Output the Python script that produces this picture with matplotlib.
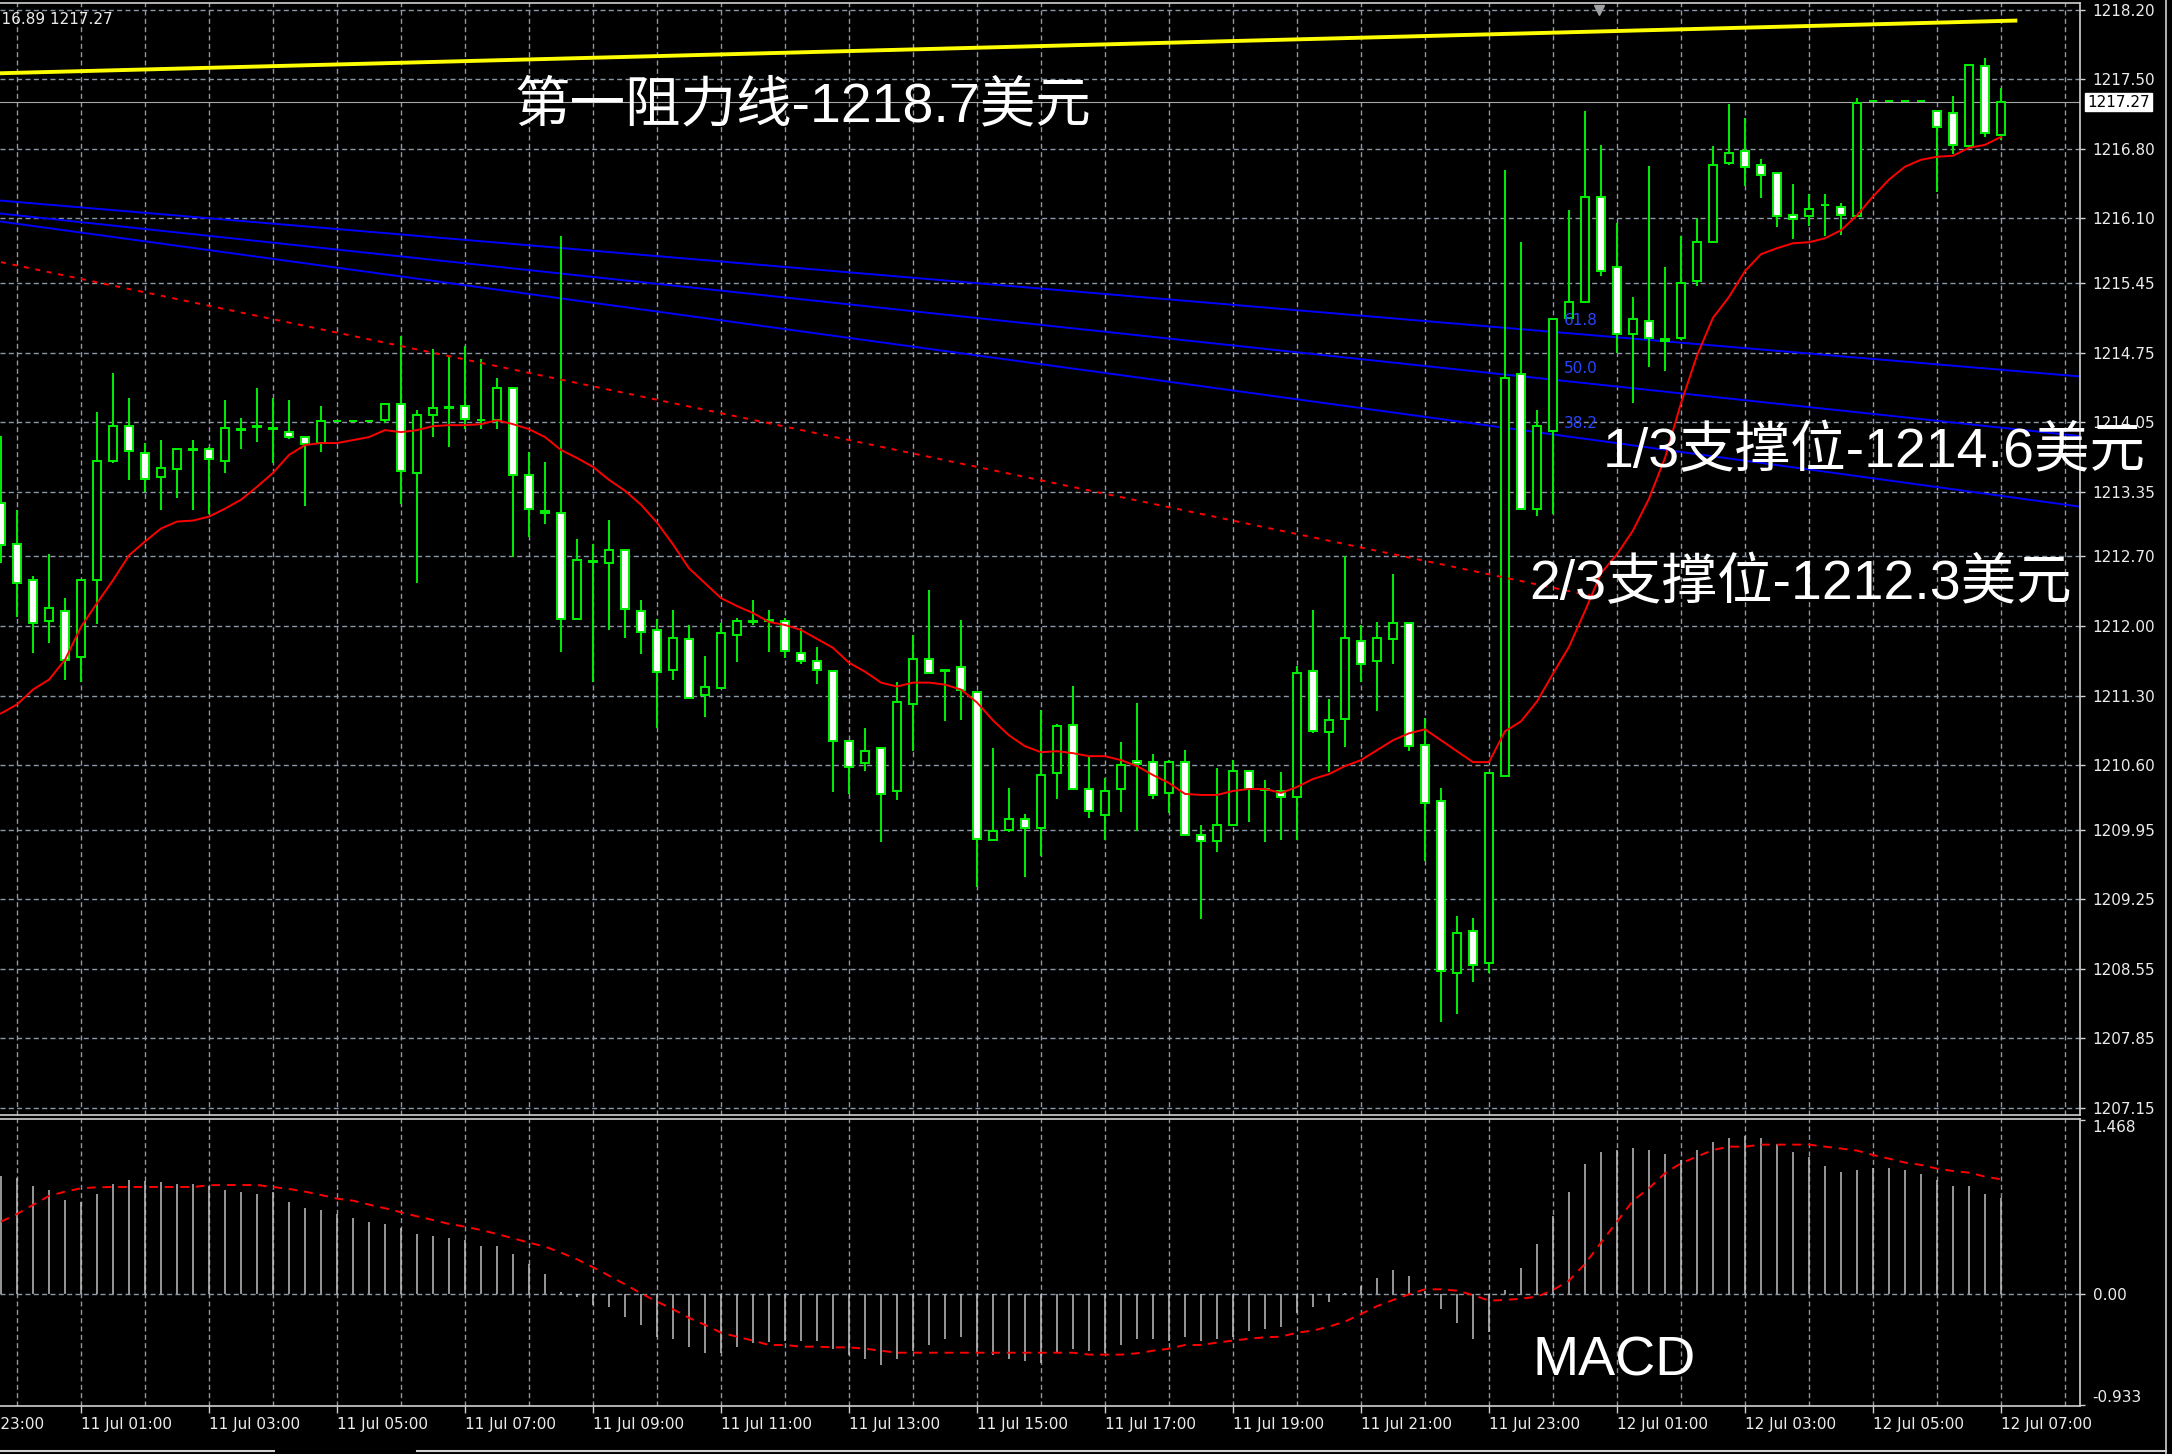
import matplotlib.pyplot as plt
from matplotlib.patches import Rectangle
from matplotlib.lines import Line2D
from matplotlib.ticker import FormatStrFormatter

# XAUUSD M15 bars, 10 Jul 23:45 -> 12 Jul 07:00
opens = [1213.24, 1212.82, 1212.46, 1212.05, 1212.15, 1211.69, 1212.46, 1213.66, 1214.01, 1213.74,
         1213.50, 1213.58, 1213.77, 1213.78, 1213.66, 1213.98, 1214.01, 1213.99, 1213.95, 1213.90,
         1213.84, 1214.06, 1214.06, 1214.06, 1214.07, 1214.23, 1213.54, 1214.12, 1214.20, 1214.21,
         1214.07, 1214.07, 1214.39, 1213.52, 1213.16, 1213.14, 1212.07, 1212.65, 1212.63, 1212.76,
         1212.15, 1211.96, 1211.56, 1211.87, 1211.31, 1211.38, 1211.91, 1212.05, 1212.06, 1212.05,
         1211.73, 1211.65, 1211.55, 1210.84, 1210.62, 1210.77, 1210.34, 1211.21, 1211.67, 1211.56,
         1211.59, 1211.34, 1209.85, 1209.95, 1210.06, 1209.97, 1210.52, 1211.00, 1210.36, 1210.10,
         1210.36, 1210.64, 1210.63, 1210.32, 1210.63, 1209.90, 1209.84, 1210.00, 1210.54, 1210.36,
         1210.34, 1210.28, 1211.55, 1210.93, 1211.06, 1211.85, 1211.65, 1211.87, 1212.03, 1210.80,
         1210.24, 1208.51, 1208.93, 1208.61, 1210.49, 1214.53, 1213.18, 1213.96, 1215.10, 1215.26,
         1216.32, 1215.61, 1214.94, 1215.07, 1214.89, 1214.90, 1215.47, 1215.86, 1216.66, 1216.78,
         1216.64, 1216.56, 1216.13, 1216.12, 1216.23, 1216.21, 1216.12, 1217.28, 1217.28, 1217.28,
         1217.28, 1217.18, 1217.16, 1216.83, 1217.63, 1216.94]
highs = [1213.91, 1213.17, 1212.50, 1212.72, 1212.28, 1212.46, 1214.15, 1214.54, 1214.29, 1213.84,
         1213.87, 1213.78, 1213.87, 1213.80, 1214.27, 1214.09, 1214.39, 1214.29, 1214.27, 1213.90,
         1214.21, 1214.06, 1214.06, 1214.06, 1214.23, 1214.92, 1214.17, 1214.79, 1214.72, 1214.82,
         1214.69, 1214.49, 1214.39, 1213.75, 1213.65, 1215.92, 1212.87, 1212.82, 1213.07, 1212.76,
         1212.26, 1212.07, 1212.16, 1212.01, 1211.70, 1212.03, 1212.08, 1212.26, 1212.16, 1212.08,
         1211.98, 1211.79, 1211.55, 1210.84, 1210.97, 1210.77, 1211.44, 1211.91, 1212.36, 1211.56,
         1212.06, 1211.34, 1210.77, 1210.37, 1210.11, 1211.15, 1211.01, 1211.40, 1210.68, 1210.47,
         1210.83, 1211.22, 1210.71, 1210.65, 1210.75, 1210.00, 1210.57, 1210.65, 1210.54, 1210.45,
         1210.53, 1211.60, 1212.16, 1211.27, 1212.70, 1212.01, 1212.04, 1212.52, 1212.03, 1211.07,
         1210.37, 1209.08, 1209.06, 1210.52, 1216.59, 1215.86, 1214.17, 1215.09, 1216.18, 1217.18,
         1216.84, 1216.05, 1215.31, 1216.63, 1215.61, 1215.92, 1216.10, 1216.83, 1217.25, 1217.11,
         1216.70, 1216.56, 1216.45, 1216.35, 1216.35, 1216.25, 1217.31, 1217.28, 1217.28, 1217.28,
         1217.28, 1217.18, 1217.33, 1217.64, 1217.71, 1217.41]
lows = [1212.63, 1212.09, 1211.73, 1211.83, 1211.46, 1211.44, 1212.02, 1213.64, 1213.47, 1213.35,
        1213.17, 1213.29, 1213.17, 1213.13, 1213.54, 1213.78, 1213.85, 1213.64, 1213.88, 1213.21,
        1213.75, 1214.06, 1214.06, 1214.06, 1214.04, 1213.23, 1212.43, 1213.90, 1213.80, 1213.98,
        1213.98, 1213.98, 1212.69, 1212.89, 1213.03, 1211.74, 1212.07, 1211.44, 1211.96, 1211.88,
        1211.72, 1210.97, 1211.46, 1211.28, 1211.08, 1211.38, 1211.64, 1212.01, 1211.74, 1211.68,
        1211.62, 1211.42, 1210.33, 1210.31, 1210.54, 1209.83, 1210.25, 1210.74, 1211.53, 1211.04,
        1211.05, 1209.37, 1209.85, 1209.93, 1209.47, 1209.69, 1210.26, 1210.36, 1210.07, 1209.85,
        1210.13, 1209.94, 1210.26, 1210.12, 1209.90, 1209.05, 1209.73, 1210.00, 1210.03, 1209.83,
        1209.85, 1209.85, 1210.92, 1210.53, 1210.78, 1211.44, 1211.14, 1211.62, 1210.74, 1209.64,
        1208.02, 1208.10, 1208.42, 1208.51, 1210.49, 1213.17, 1213.11, 1213.13, 1215.10, 1215.26,
        1215.52, 1214.75, 1214.24, 1214.61, 1214.56, 1214.88, 1215.42, 1215.86, 1216.64, 1216.43,
        1216.31, 1216.01, 1215.89, 1216.02, 1215.92, 1215.93, 1216.12, 1217.28, 1217.28, 1217.28,
        1217.28, 1216.37, 1216.75, 1216.81, 1216.92, 1216.89]
closes = [1212.81, 1212.43, 1212.03, 1212.18, 1211.66, 1212.46, 1213.66, 1214.01, 1213.76, 1213.48,
          1213.59, 1213.78, 1213.78, 1213.68, 1213.99, 1213.97, 1214.00, 1213.98, 1213.90, 1213.83,
          1214.06, 1214.06, 1214.06, 1214.06, 1214.23, 1213.56, 1214.12, 1214.19, 1214.19, 1214.08,
          1214.07, 1214.39, 1213.52, 1213.18, 1213.14, 1212.07, 1212.66, 1212.64, 1212.76, 1212.17,
          1211.94, 1211.54, 1211.88, 1211.28, 1211.39, 1211.93, 1212.05, 1212.04, 1212.05, 1211.75,
          1211.65, 1211.56, 1210.84, 1210.58, 1210.74, 1210.31, 1211.23, 1211.67, 1211.53, 1211.55,
          1211.36, 1209.86, 1209.94, 1210.06, 1209.97, 1210.50, 1210.99, 1210.36, 1210.14, 1210.34,
          1210.60, 1210.61, 1210.30, 1210.63, 1209.90, 1209.84, 1210.00, 1210.54, 1210.36, 1210.35,
          1210.28, 1211.53, 1210.94, 1211.05, 1211.88, 1211.62, 1211.88, 1212.03, 1210.79, 1210.22,
          1208.53, 1208.91, 1208.59, 1210.52, 1214.49, 1213.18, 1214.01, 1215.09, 1215.26, 1216.32,
          1215.57, 1214.94, 1215.09, 1214.90, 1214.87, 1215.45, 1215.86, 1216.64, 1216.76, 1216.62,
          1216.54, 1216.12, 1216.09, 1216.19, 1216.23, 1216.13, 1217.26, 1217.28, 1217.28, 1217.28,
          1217.28, 1217.02, 1216.84, 1217.64, 1216.96, 1217.27]
ma_line = [1211.12, 1211.21, 1211.36, 1211.46, 1211.66, 1211.99, 1212.23, 1212.46, 1212.71, 1212.85,
           1212.98, 1213.05, 1213.06, 1213.10, 1213.18, 1213.27, 1213.40, 1213.54, 1213.72, 1213.82,
           1213.84, 1213.84, 1213.87, 1213.90, 1213.97, 1213.95, 1213.97, 1214.01, 1214.02, 1214.02,
           1214.03, 1214.07, 1214.03, 1213.98, 1213.90, 1213.77, 1213.69, 1213.60, 1213.47, 1213.36,
           1213.22, 1213.04, 1212.82, 1212.58, 1212.43, 1212.28, 1212.20, 1212.13, 1212.04, 1212.01,
           1211.96, 1211.87, 1211.78, 1211.63, 1211.54, 1211.43, 1211.39, 1211.43, 1211.43, 1211.41,
           1211.36, 1211.23, 1211.05, 1210.90, 1210.79, 1210.73, 1210.74, 1210.72, 1210.69, 1210.69,
           1210.65, 1210.59, 1210.50, 1210.42, 1210.31, 1210.30, 1210.30, 1210.34, 1210.36, 1210.36,
           1210.32, 1210.38, 1210.46, 1210.51, 1210.59, 1210.65, 1210.75, 1210.85, 1210.92, 1210.96,
           1210.85, 1210.74, 1210.63, 1210.63, 1210.94, 1211.04, 1211.24, 1211.52, 1211.79, 1212.15,
           1212.53, 1212.72, 1212.96, 1213.28, 1213.69, 1214.24, 1214.72, 1215.10, 1215.31, 1215.57,
           1215.74, 1215.80, 1215.85, 1215.86, 1215.90, 1215.98, 1216.13, 1216.32, 1216.49, 1216.62,
           1216.69, 1216.72, 1216.73, 1216.81, 1216.84, 1216.92]
macd_hist = [0.997, 0.978, 0.913, 0.879, 0.795, 0.778, 0.846, 0.930, 0.963, 0.958,
             0.947, 0.930, 0.930, 0.913, 0.879, 0.862, 0.846, 0.862, 0.778, 0.728,
             0.711, 0.677, 0.643, 0.610, 0.593, 0.559, 0.508, 0.492, 0.475, 0.458,
             0.407, 0.407, 0.340, 0.256, 0.171, 0.022, -0.020, -0.090, -0.110, -0.194,
             -0.261, -0.357, -0.379, -0.447, -0.497, -0.497, -0.447, -0.413, -0.402, -0.396,
             -0.396, -0.396, -0.463, -0.514, -0.548, -0.598, -0.548, -0.480, -0.430, -0.379,
             -0.362, -0.497, -0.514, -0.548, -0.565, -0.581, -0.497, -0.463, -0.480, -0.497,
             -0.430, -0.379, -0.379, -0.396, -0.362, -0.396, -0.379, -0.362, -0.312, -0.295,
             -0.278, -0.160, -0.110, -0.062, 0.014, 0.070, 0.135, 0.205, 0.154, 0.030,
             -0.126, -0.244, -0.379, -0.315, 0.037, 0.222, 0.424, 0.660, 0.862, 1.098,
             1.199, 1.216, 1.233, 1.216, 1.183, 1.132, 1.216, 1.284, 1.317, 1.334,
             1.317, 1.267, 1.199, 1.160, 1.081, 1.031, 1.048, 1.065, 1.065, 1.048,
             1.014, 0.963, 0.913, 0.913, 0.846, 0.812]
macd_signal = [0.612, 0.677, 0.753, 0.829, 0.865, 0.893, 0.902, 0.904, 0.904, 0.904,
               0.904, 0.904, 0.904, 0.919, 0.921, 0.921, 0.921, 0.904, 0.888, 0.865,
               0.837, 0.806, 0.789, 0.756, 0.725, 0.691, 0.657, 0.626, 0.593, 0.570,
               0.542, 0.508, 0.472, 0.435, 0.402, 0.351, 0.295, 0.228, 0.157, 0.084,
               0.008, -0.062, -0.126, -0.198, -0.258, -0.323, -0.357, -0.390, -0.427, -0.427,
               -0.441, -0.441, -0.447, -0.447, -0.458, -0.475, -0.492, -0.492, -0.492, -0.492,
               -0.492, -0.492, -0.492, -0.492, -0.492, -0.492, -0.492, -0.492, -0.508, -0.508,
               -0.508, -0.497, -0.475, -0.458, -0.427, -0.427, -0.407, -0.390, -0.374, -0.362,
               -0.357, -0.323, -0.306, -0.272, -0.230, -0.166, -0.100, -0.048, 0.000, 0.042,
               0.042, 0.031, -0.006, -0.053, -0.048, -0.037, -0.020, 0.037, 0.115, 0.256,
               0.435, 0.612, 0.789, 0.893, 1.020, 1.104, 1.160, 1.216, 1.244, 1.244,
               1.261, 1.261, 1.261, 1.261, 1.244, 1.228, 1.211, 1.174, 1.143, 1.110,
               1.090, 1.059, 1.039, 1.025, 0.992, 0.969]

# trend objects: (bar index, price) at both ends
resist_x = [-0.1, 125.9]
resist_y = [1217.56, 1218.09]
channel_x = [0, 99.5]
channel_y = [1215.66, 1212.30]
fan_x = [-0.1, 129.94]
fan_levels = ['61.8', '50.0', '38.2']
fan_left = [1216.28, 1216.15, 1216.07]
fan_right = [1214.51, 1213.91, 1213.20]

price_ticks = [1218.20, 1217.50, 1216.80, 1216.10, 1215.45, 1214.75, 1214.05, 1213.35, 1212.70,
               1212.00, 1211.30, 1210.60, 1209.95, 1209.25, 1208.55, 1207.85, 1207.15]
macd_ticks = [1.468, 0.0, -0.933]
macd_tick_labels = ['1.468', '0.00', '-0.933']
time_labels = ['10 Jul 23:00', '11 Jul 01:00', '11 Jul 03:00', '11 Jul 05:00', '11 Jul 07:00',
               '11 Jul 09:00', '11 Jul 11:00', '11 Jul 13:00', '11 Jul 15:00', '11 Jul 17:00',
               '11 Jul 19:00', '11 Jul 21:00', '11 Jul 23:00', '12 Jul 01:00', '12 Jul 03:00',
               '12 Jul 05:00', '12 Jul 07:00']
time_pos = list(range(-3, 126, 8))

GREEN = '#00f000'
GRID = '#8a98a8'
FRAME = '#d0d0d0'
TXT = '#ececec'
DASH = (0, (3.6, 2.4))
label_font = ['Liberation Sans', 'Noto Sans CJK SC']

W, H = 2172, 1454
fig = plt.figure(figsize=(W / 100, H / 100), dpi=100, facecolor='black')
ax = fig.add_axes([0, 1 - 1115 / H, 2080 / W, 1112 / H])
macd_ax = fig.add_axes([0, 1 - 1406 / H, 2080 / W, 287 / H], sharex=ax)

x = list(range(len(opens)))

# candles: white body = bear, black body = bull
ax.vlines(x, lows, highs, color=GREEN, lw=1.4, zorder=3)
for i in x:
    o, c = opens[i], closes[i]
    ax.add_patch(Rectangle((i - 0.23, min(o, c)), 0.46, abs(c - o),
                           facecolor='white' if c < o else 'black',
                           edgecolor=GREEN, lw=1.4, zorder=4))

ax.plot(x, ma_line, color='#ff0000', lw=1.4, zorder=5)
ax.plot(channel_x, channel_y, color='#ff0000', lw=1.4, ls=(0, (2.6, 3.4)), zorder=5)
ax.plot(resist_x, resist_y, color='#ffff00', lw=2.8, zorder=5)
ax.axhline(closes[-1], color='#a8a8a8', lw=0.8, zorder=2)

for lvl, y0, y1 in zip(fan_levels, fan_left, fan_right):
    ax.plot(fan_x, [y0, y1], color='#0000ff', lw=1.4, zorder=2)
    xl = 97.7
    yl = y0 + (y1 - y0) * (xl - fan_x[0]) / (fan_x[1] - fan_x[0])
    ax.annotate(lvl, (xl, yl), xytext=(0, 5), textcoords='offset pixels',
                color='#2a45ff', fontsize=11, ha='left', va='bottom', zorder=6)

# current bid tag on the price scale
ax.text(1.0035, closes[-1], f'{closes[-1]:.2f}', transform=ax.get_yaxis_transform(),
        ha='left', va='center', fontsize=11, color='black', zorder=10,
        bbox=dict(boxstyle='square,pad=0.12', fc='white', ec='white'))
ax.plot([99.9], [0.994], marker='v', color='#a0a0a0', markersize=7,
        transform=ax.get_xaxis_transform(), clip_on=False, zorder=6)

ax.text(32.1, 1217.22, '第一阻力线-1218.7美元', color='white', fontsize=40,
        family=label_font, ha='left', va='center', zorder=10)
ax.text(100.1, 1213.74, '1/3支撑位-1214.6美元', color='white', fontsize=40,
        family=label_font, ha='left', va='center', zorder=10)
ax.text(95.5, 1212.41, '2/3支撑位-1212.3美元', color='white', fontsize=40,
        family=label_font, ha='left', va='center', zorder=10)

# MACD panel
macd_ax.vlines(x, 0, macd_hist, color='#c0c0c0', lw=1.1, zorder=3)
macd_ax.plot(x, macd_signal, color='#ff0000', lw=1.4, ls=(0, (4.5, 3.5)), zorder=4)
macd_ax.axhline(0, color=GRID, lw=1.0, ls=DASH, zorder=1)
macd_ax.text(95.75, -0.57, 'MACD', color='white', fontsize=40,
             family=label_font, ha='left', va='center', zorder=10)

macd_ax.set_xticks(time_pos)
macd_ax.set_xticklabels(time_labels, ha='left')
macd_ax.set_xticks(range(1, 130, 4), minor=True)
for a in (ax, macd_ax):
    a.set_facecolor('black')
    a.grid(True, axis='x', which='both', color=GRID, lw=1.0, ls=DASH, zorder=1)
    a.set_axisbelow(True)
    for s in a.spines.values():
        s.set_color(FRAME)
        s.set_linewidth(1.2)
    a.spines['left'].set_visible(False)
    a.yaxis.tick_right()
    a.tick_params(axis='y', colors=FRAME, labelcolor=TXT, length=3.6, width=1,
                  pad=5.5, labelsize=11)

ax.set_yticks(price_ticks)
ax.yaxis.set_major_formatter(FormatStrFormatter('%.2f'))
ax.grid(True, axis='y', color=GRID, lw=1.0, ls=DASH, zorder=1)
ax.tick_params(axis='x', which='both', bottom=False, labelbottom=False)

macd_ax.set_yticks(macd_ticks)
macd_ax.set_yticklabels(macd_tick_labels)
ylabs = macd_ax.get_yticklabels()
ylabs[0].set_va('top')
ylabs[-1].set_va('bottom')
macd_ax.tick_params(axis='x', which='major', colors=FRAME, labelcolor=TXT,
                    length=4.8, width=1, pad=3, labelsize=11)
macd_ax.tick_params(axis='x', which='minor', length=0)

# first time label sits left of the view, only its tail shows
macd_ax.annotate(time_labels[0], (time_pos[0], 0), xycoords=('data', 'axes fraction'),
                 xytext=(0, -7.8), textcoords='offset points', ha='left', va='top',
                 color=TXT, fontsize=11, annotation_clip=False)

# limits last, so the tick lists cannot widen the view
ax.set_xlim(-0.0625, 129.94)
ax.set_ylim(1207.08, 1218.267)
macd_ax.set_ylim(-0.941, 1.477)

# last bar readout, clipped at the left edge
fig.text(113 / W, 1 - 20 / H,
         f'{opens[-1]:.2f} {highs[-1]:.2f} {lows[-1]:.2f} {closes[-1]:.2f}',
         color=TXT, fontsize=11, ha='right', va='center')

# window frame
fig.add_artist(Line2D([2166 / W] * 2, [0, 1], color=FRAME, lw=1.2))
fig.add_artist(Line2D([0, 274 / W], [3 / H] * 2, color=FRAME, lw=1.5))
fig.add_artist(Line2D([417 / W, 2166 / W], [3 / H] * 2, color=FRAME, lw=1.5))

fig.savefig('out.png', dpi=100, facecolor='black')
